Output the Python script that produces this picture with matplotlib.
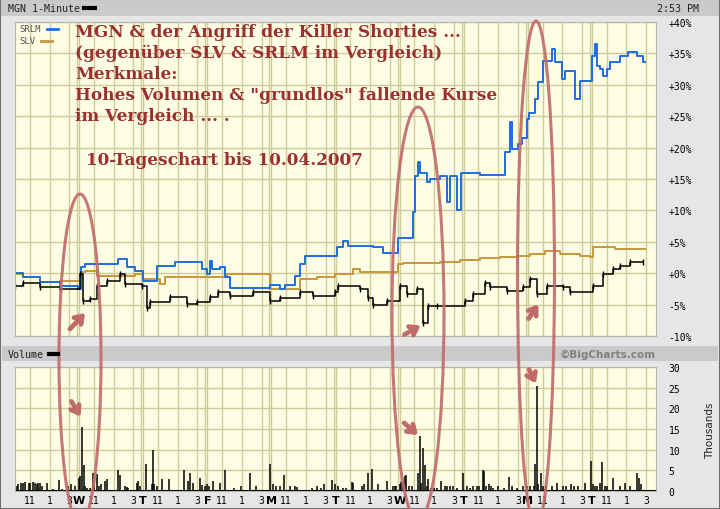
import matplotlib.pyplot as plt
from matplotlib.patches import Ellipse, Rectangle
from matplotlib.lines import Line2D

# time axis: trading days since start (each day 9:30-16:00), value: % change
srlm_t = [0.00, 0.12, 0.39, 0.70, 0.98, 1.03, 1.09, 1.61, 1.75, 1.87, 2.00, 2.21, 2.50, 2.92,
          3.00, 3.04, 3.07, 3.20, 3.28, 3.35, 3.98, 4.13, 4.21, 4.37, 4.45, 4.52, 5.02, 5.12,
          5.20, 5.59, 5.74, 5.98, 6.21, 6.24, 6.29, 6.32, 6.43, 6.47, 6.63, 6.74, 6.79, 6.90,
          6.96, 7.25, 7.64, 7.72, 7.75, 7.85, 7.91, 7.99, 8.02, 8.11, 8.16, 8.24, 8.38, 8.42,
          8.53, 8.58, 8.74, 8.81, 9.00, 9.05, 9.08, 9.13, 9.17, 9.24, 9.28, 9.44, 9.56, 9.70,
          9.80, 9.83]
srlm_pct = [0.0, -0.6, -1.4, -2.0, -2.5, 1.0, 1.5, 2.2, 1.0, 0.3, -1.3, 1.1, 1.8, 0.7,
            -0.1, 2.0, 0.7, 1.0, -0.6, -2.4, -1.9, -2.5, -1.9, -0.4, 1.5, 2.7, 4.2, 5.2,
            4.4, 4.2, 3.2, 5.6, 9.8, 15.5, 17.7, 16.0, 14.5, 15.0, 15.5, 11.3, 15.5, 10.0,
            16.0, 15.6, 19.3, 24.0, 19.7, 20.5, 21.5, 24.6, 25.5, 27.7, 30.5, 33.8, 35.7, 33.6,
            31.0, 32.2, 27.7, 30.6, 34.6, 36.5, 33.0, 32.5, 31.4, 32.5, 33.6, 34.6, 35.2, 34.6,
            33.6, 33.6]

slv_t = [0.00, 0.12, 0.39, 0.70, 1.05, 1.09, 1.28, 1.87, 2.00, 2.26, 2.34, 3.31, 3.98, 4.45,
         4.71, 4.99, 5.27, 5.38, 5.98, 6.06, 6.63, 6.94, 7.25, 7.57, 7.83, 8.03, 8.27, 8.50,
         8.81, 8.97, 9.02, 9.36, 9.59, 9.83]
slv_pct = [-0.1, -0.6, -1.4, -1.2, 0.2, 0.3, -0.4, -0.2, -0.9, -1.7, -0.6, -0.1, -2.5, -0.9,
           -0.6, -0.1, 0.6, 0.2, 1.5, 1.6, 1.8, 2.1, 2.4, 2.6, 2.8, 3.1, 3.5, 3.0,
           2.7, 2.6, 4.1, 3.9, 3.8, 3.8]

mgn_t = [0.00, 0.12, 0.39, 0.70, 1.01, 1.06, 1.17, 1.28, 1.44, 1.64, 1.72, 1.98, 2.06, 2.11,
         2.42, 2.68, 2.84, 3.04, 3.17, 3.35, 3.71, 3.98, 4.13, 4.45, 4.65, 4.99, 5.04, 5.38,
         5.51, 5.59, 5.80, 6.01, 6.12, 6.27, 6.37, 6.44, 6.58, 7.02, 7.15, 7.33, 7.41, 7.68,
         7.93, 8.03, 8.14, 8.30, 8.55, 8.66, 9.02, 9.17, 9.33, 9.44, 9.59, 9.80]
mgn_pct = [-2.0, -1.5, -2.2, -2.5, -0.1, -4.4, -4.1, -2.0, -1.3, -0.2, -1.7, -2.0, -5.5, -4.6,
           -3.8, -4.9, -4.6, -3.8, -3.0, -3.6, -3.0, -4.4, -4.0, -3.0, -3.6, -3.0, -2.0, -2.5,
           -4.0, -5.1, -4.4, -2.0, -3.3, -2.5, -8.0, -5.2, -5.3, -4.4, -3.3, -1.5, -2.2, -2.9,
           -2.2, -0.9, -3.3, -2.0, -2.2, -3.0, -2.0, -0.2, 0.6, 1.2, 1.8, 1.8]

vol_t = [0.03, 0.05, 0.09, 0.13, 0.16, 0.22, 0.24, 0.28, 0.31, 0.34, 0.36, 0.39, 0.42, 0.50,
         0.59, 0.69, 0.74, 0.83, 0.88, 0.94, 1.00, 1.02, 1.05, 1.07, 1.09, 1.13, 1.17, 1.21,
         1.24, 1.28, 1.31, 1.34, 1.40, 1.43, 1.60, 1.64, 1.72, 1.74, 1.77, 1.90, 1.92, 1.95,
         2.04, 2.13, 2.15, 2.17, 2.21, 2.29, 2.41, 2.64, 2.70, 2.73, 2.77, 2.88, 2.91, 2.96,
         2.99, 3.02, 3.09, 3.20, 3.28, 3.41, 3.52, 3.67, 3.76, 3.98, 4.03, 4.07, 4.14, 4.20,
         4.29, 4.37, 4.40, 4.63, 4.71, 4.77, 4.82, 4.95, 4.99, 5.04, 5.12, 5.17, 5.26, 5.28,
         5.41, 5.44, 5.51, 5.57, 5.67, 5.81, 5.90, 5.93, 5.95, 6.00, 6.02, 6.05, 6.08, 6.10,
         6.14, 6.19, 6.29, 6.32, 6.34, 6.37, 6.39, 6.42, 6.45, 6.49, 6.54, 6.58, 6.65, 6.71,
         6.74, 6.78, 6.83, 6.89, 6.99, 7.05, 7.10, 7.15, 7.20, 7.24, 7.30, 7.32, 7.35, 7.40,
         7.42, 7.46, 7.54, 7.63, 7.70, 7.76, 7.83, 7.93, 7.98, 8.03, 8.10, 8.12, 8.14, 8.16,
         8.20, 8.24, 8.28, 8.38, 8.46, 8.55, 8.60, 8.68, 8.72, 8.79, 8.89, 8.99, 9.02, 9.05,
         9.08, 9.12, 9.16, 9.20, 9.23, 9.33, 9.44, 9.52, 9.59, 9.70, 9.74, 9.77]
vol_k = [1.2, 1.6, 2.0, 2.0, 2.2, 2.0, 2.0, 2.2, 2.0, 1.6, 2.0, 1.9, 1.2, 2.0,
         0.6, 2.6, 0.6, 1.2, 1.6, 1.2, 3.2, 3.6, 15.6, 6.3, 1.2, 0.8, 0.8, 4.3,
         1.2, 4.2, 1.2, 1.6, 2.4, 3.0, 5.0, 3.8, 1.2, 1.0, 0.8, 2.0, 2.4, 1.2,
         6.5, 1.6, 9.9, 1.6, 1.2, 3.0, 3.0, 5.0, 2.4, 4.3, 2.0, 3.2, 1.4, 1.2,
         1.6, 1.2, 2.4, 2.0, 5.0, 0.8, 1.2, 4.4, 1.2, 6.5, 1.8, 1.2, 1.2, 3.8,
         1.2, 1.2, 1.0, 0.8, 1.2, 0.8, 1.6, 2.6, 1.6, 1.2, 0.8, 0.8, 2.2, 2.0,
         1.2, 1.8, 4.4, 5.4, 1.6, 2.4, 1.2, 1.2, 1.2, 1.8, 2.2, 2.4, 3.6, 3.8,
         1.2, 1.2, 4.4, 13.3, 2.0, 10.5, 6.2, 1.2, 2.8, 0.8, 0.8, 0.8, 2.4, 1.2,
         1.2, 1.2, 1.2, 0.8, 4.3, 1.2, 0.8, 1.2, 1.2, 1.2, 5.0, 4.8, 1.2, 1.6,
         1.2, 0.8, 1.2, 0.8, 3.5, 1.2, 0.8, 1.2, 1.2, 1.2, 1.2, 6.5, 25.4, 1.6,
         4.3, 1.2, 1.2, 1.2, 2.0, 1.2, 1.2, 1.8, 1.2, 1.2, 2.0, 7.3, 1.6, 1.2,
         1.2, 2.0, 6.9, 1.2, 1.2, 3.2, 1.2, 2.0, 1.2, 4.4, 3.2, 1.6]

day_letters = ['', 'W', 'T', 'F', 'M', 'T', 'W', 'T', 'M', 'T']
hour_labels = ['11', '1', '3']
hour_offsets = [1.5 / 6.5, 3.5 / 6.5, 5.5 / 6.5]
pct_ticks = list(range(-10, 41, 5))
vol_ticks = list(range(0, 31, 5))

W, H = 720, 510
BG = '#fefee4'
GRID = '#cfcb9b'
MONO = 'DejaVu Sans Mono'


def box(l, t, r, b):
    return [l / W, 1 - b / H, (r - l) / W, (b - t) / H]


fig = plt.figure(figsize=(7.2, 5.1), dpi=100)
fig.patch.set_facecolor('#e6e6e6')

# header bands
fig.add_artist(Rectangle((0, 1 - 17 / H), 1, 17 / H, transform=fig.transFigure,
                         facecolor='#cacaca', edgecolor='none'))
fig.add_artist(Rectangle((2 / W, 1 - 362 / H), 716 / W, 15 / H, transform=fig.transFigure,
                         facecolor='#cacaca', edgecolor='none'))


def style_grid(a):
    a.set_facecolor(BG)
    a.set_xlim(0, 10)
    for d in range(10):
        if d > 0:
            a.axvline(d - 0.03, color=GRID, lw=1, zorder=0)
            a.axvline(d, color=GRID, lw=1, zorder=0)
        for off in hour_offsets:
            a.axvline(d + off, color=GRID, lw=1, zorder=0)
    a.grid(axis='y', color=GRID, lw=1, zorder=0)
    a.set_axisbelow(True)
    a.yaxis.tick_right()
    a.tick_params(axis='y', length=0, pad=9, labelsize=7)
    for lbl in a.get_yticklabels():
        lbl.set_family(MONO)
    for s in a.spines.values():
        s.set_color('#b4b4a4')
        s.set_linewidth(0.8)


# main price panel
ax = fig.add_axes(box(15, 23, 656, 337))
ax.set_ylim(-10, 40)
ax.set_yticks(pct_ticks)
ax.set_yticklabels([f'{v:+d}%' if v != 0 else '+0%' for v in pct_ticks])
ax.set_xticks([])
style_grid(ax)
ax.step(slv_t, slv_pct, where='post', color='#c8963c', lw=1.4)
ax.step(srlm_t, srlm_pct, where='post', color='#1d6ee0', lw=1.4)
ax.plot(mgn_t, mgn_pct, drawstyle='steps-post', color='black', lw=1.1,
        marker='|', markersize=4, markeredgewidth=1)

# volume panel
vax = fig.add_axes(box(15, 368, 656, 492))
vax.set_ylim(0, 30)
vax.set_yticks(vol_ticks)
ticks, labels = [], []
for d in range(10):
    if d > 0:
        ticks.append(d)
        labels.append(day_letters[d])
    for off, lab in zip(hour_offsets, hour_labels):
        ticks.append(d + off)
        labels.append(lab)
vax.set_xticks(ticks)
vax.set_xticklabels(labels)
vax.tick_params(axis='x', length=0, pad=3, labelsize=7)
for lbl in vax.get_xticklabels():
    lbl.set_family(MONO)
    if lbl.get_text().isalpha():
        lbl.set_fontweight('bold')
        lbl.set_family('DejaVu Sans')
        lbl.set_fontsize(8)
style_grid(vax)
vax.vlines(vol_t, 0, vol_k, color='black', lw=1.1)
vax.axhline(0, color='black', lw=1.5)

# overlay for texts and hand-drawn marks (pixel coordinates)
ov = fig.add_axes([0, 0, 1, 1])
ov.set_xlim(0, W)
ov.set_ylim(H, 0)
ov.axis('off')
ov.patch.set_alpha(0)
ov.set_zorder(10)

small = dict(family=MONO, fontsize=7.2, color='#222222', va='center')
ov.text(8, 8.5, 'MGN 1-Minute', **small)
ov.add_line(Line2D([84, 95], [8.5, 8.5], color='black', lw=3))
ov.text(678, 8.5, '2:53 PM', ha='center', **small)
ov.text(8, 355, 'Volume', **small)
ov.add_line(Line2D([49, 58], [355, 355], color='black', lw=3))
ov.text(656, 355, '©BigCharts.com', ha='right', va='center', fontsize=7.5,
        fontweight='bold', color='#808080')
ov.text(710, 431, 'Thousands', rotation=90, ha='center', va='center',
        fontsize=7.5, color='#222222')
ov.text(19, 30, 'SRLM', family=MONO, fontsize=6.5, color='#555555', va='center')
ov.add_line(Line2D([47, 58], [30, 30], color='#1d6ee0', lw=2))
ov.text(19, 42, 'SLV', family=MONO, fontsize=6.5, color='#555555', va='center')
ov.add_line(Line2D([41, 52], [42, 42], color='#c8963c', lw=2))

red = '#9b3030'
title_lines = ['MGN & der Angriff der Killer Shorties ...',
               '(gegenüber SLV & SRLM im Vergleich)',
               'Merkmale:',
               'Hohes Volumen & "grundlos" fallende Kurse',
               'im Vergleich ... .']
for i, line in enumerate(title_lines):
    ov.text(75, 37 + i * 21, line, family='DejaVu Serif', fontweight='bold',
            fontsize=12.2, color=red, va='baseline')
ov.text(86, 165, '10-Tageschart bis 10.04.2007', family='DejaVu Serif',
        fontweight='bold', fontsize=12.2, color=red, va='baseline')

mark = '#c06a6a'
for cx, cy, w, h in [(80, 360, 42, 330), (418, 315, 52, 414), (536, 275, 37, 506)]:
    ov.add_patch(Ellipse((cx, cy), w, h, fill=False, edgecolor=mark, lw=2.2, alpha=0.9))
for (x0, y0), (x1, y1) in [((68, 332), (87, 312)), ((402, 337), (423, 325)),
                           ((527, 322), (540, 303)), ((70, 400), (82, 420)),
                           ((402, 422), (420, 438)), ((528, 368), (537, 387))]:
    ov.annotate('', xy=(x1, y1), xytext=(x0, y0),
                arrowprops=dict(arrowstyle='->,head_length=0.5,head_width=0.35',
                                color=mark, lw=3.4))

fig.add_artist(Rectangle((0, 0), 1, 1, transform=fig.transFigure, fill=False,
                         edgecolor='#707070', lw=1.5))
fig.savefig('out.png', dpi=100, facecolor=fig.get_facecolor())
